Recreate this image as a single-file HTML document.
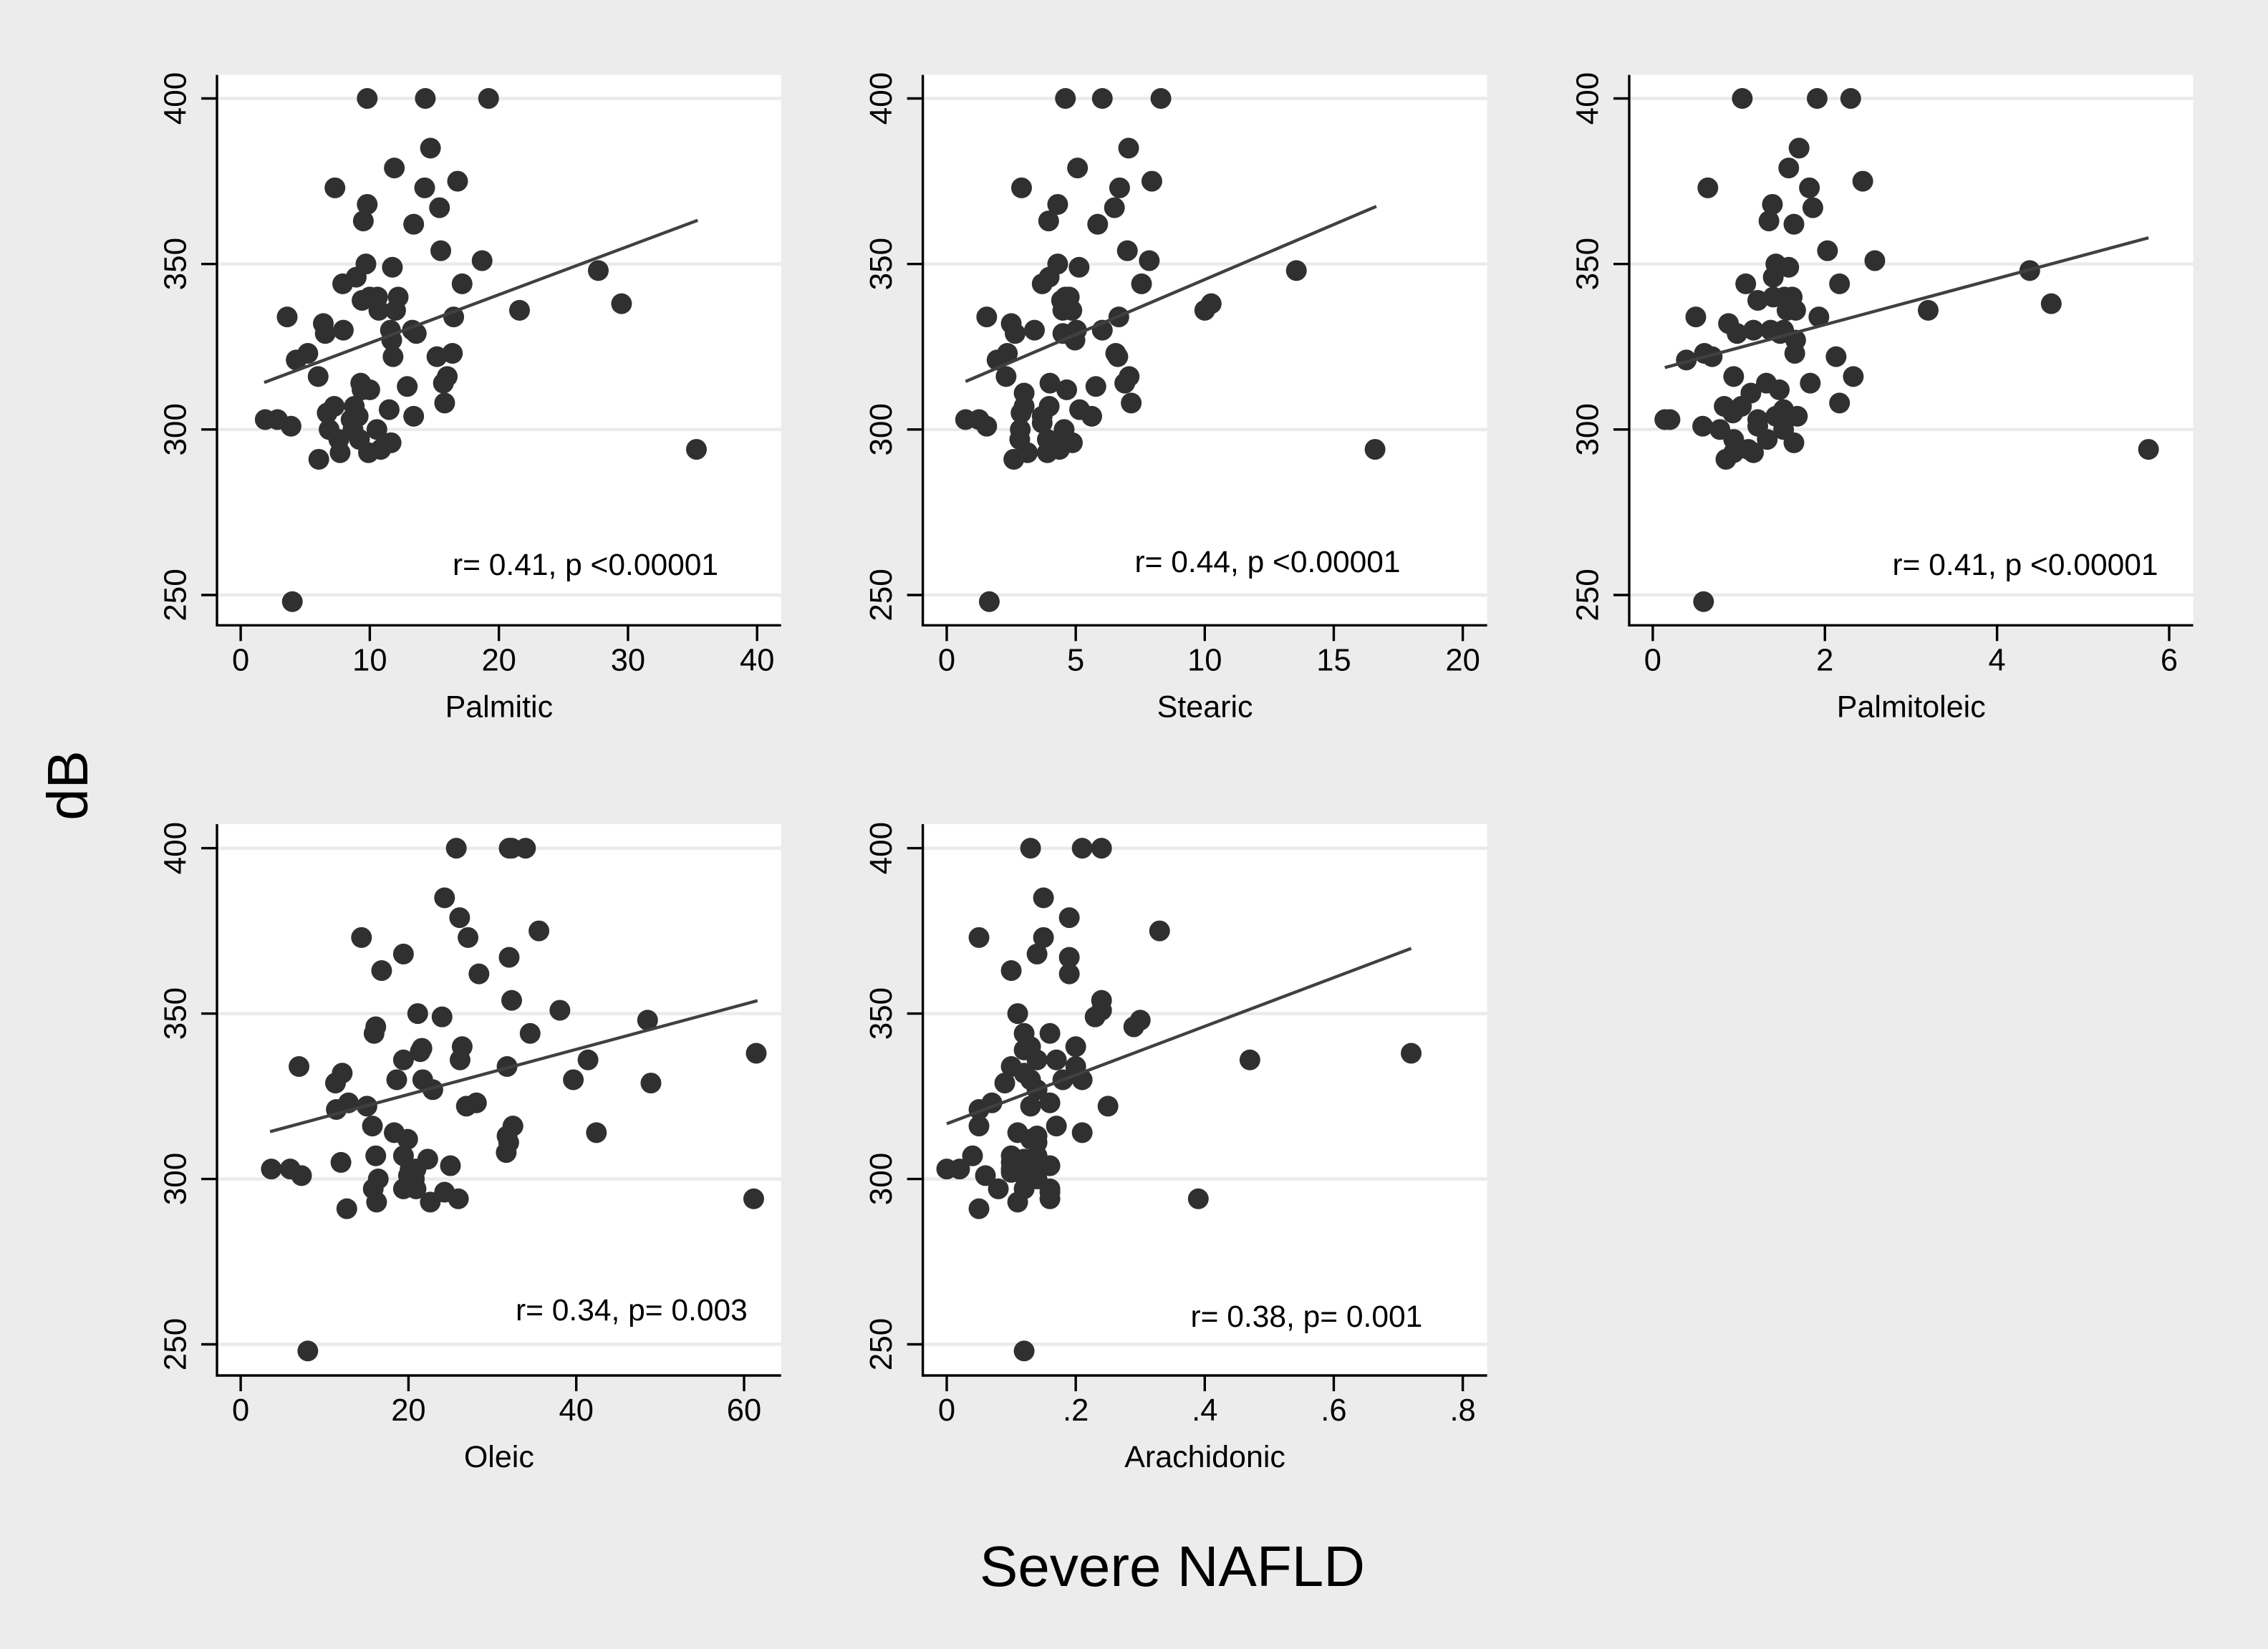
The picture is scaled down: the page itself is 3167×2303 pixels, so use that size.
<!DOCTYPE html>
<html lang="en">
<head>
<meta charset="utf-8">
<title>Severe NAFLD vs dB scatter panels</title>
<style>
html,body{margin:0;padding:0;background:#ececec;}
svg{display:block;font-family:"Liberation Sans",Arial,sans-serif;}
</style>
</head>
<body>
<svg id="chart" xmlns="http://www.w3.org/2000/svg" width="3167" height="2303" viewBox="0 0 3167 2303">
<rect x="0" y="0" width="3167" height="2303" fill="#ececec"/>
<text transform="translate(122,1097) rotate(-90)" text-anchor="middle" font-size="80" fill="#000">dB</text>
<text x="1637" y="2215" text-anchor="middle" font-size="80" fill="#000">Severe NAFLD</text>
</svg>
<script>
const yTicks = [250, 300, 350, 400];

const palmiticTicks = [0, 10, 20, 30, 40];
const palmiticX = [9.8,14.3,19.2,14.7,11.9,7.3,14.25,16.8,9.8,15.4,9.5,13.4,15.5,18.7,9.7,11.75,8.95,7.9,17.15,9.4,10,10.6,12.2,12,10.7,21.6,27.7,29.5,3.6,16.5,6.4,6.55,7.95,11.6,13.3,13.6,11.7,11.8,5.2,4.3,15.2,16.4,6,16,15.7,9.3,12.9,9.4,10,15.8,11.5,7.25,6.7,8.8,9.1,8.55,13.4,1.9,2.85,3.9,6.85,10.55,8.7,7.6,9.2,11.65,10.85,9.9,7.7,6.05,35.3,4];
const palmiticY = [400,400,400,385,379,373,373,375,368,367,363,362,354,351,350,349,346,344,344,339,340,340,340,336,336,336,348,338,334,334,332,329,330,330,330,329,327,322,323,321,322,323,316,316,314,314,313,312,312,308,306,307,305,307,304,303,304,303,303,301,300,300,300,297,297,296,294,293,293,291,294,248];
const palmiticFitX = [1.82, 35.4];
const palmiticFitY = [314.2, 363.2];

const stearicTicks = [0, 5, 10, 15, 20];
const stearicX = [4.6,6.03,8.3,7.05,5.07,2.9,6.7,7.95,4.3,6.5,3.95,5.85,7,7.85,4.3,5.13,3.97,3.7,7.55,4.45,4.75,4.6,4.5,4.85,10,10.25,13.55,1.55,6.67,2.5,2.65,3.4,5.03,4.5,6.03,4.97,2.35,1.95,6.55,6.63,2.3,7.07,6.9,4,5.78,4.65,3,7.15,5.15,3.97,3,2.88,3.7,5.62,3.7,0.73,1.25,1.55,2.85,4.55,2.83,3.9,4.87,4.37,3.13,3.9,2.6,16.6,1.65,4.2,4.0];
const stearicY = [400,400,400,385,379,373,373,375,368,367,363,362,354,351,350,349,346,344,344,339,340,340,336,336,336,338,348,334,334,332,329,330,330,329,330,327,323,321,323,322,316,316,314,314,313,312,311,308,306,307,307,305,304,304,302,303,303,301,300,300,297,297,296,294,293,293,291,294,248,296.5,295];
const stearicFitX = [0.73, 16.65];
const stearicFitY = [314.5, 367.4];

const palmitoleicTicks = [0, 2, 4, 6];
const palmitoleicX = [1.04,1.91,2.3,1.7,1.58,0.64,1.82,2.44,1.39,1.86,1.35,1.64,2.03,2.58,1.43,1.58,1.4,1.08,2.17,1.22,1.4,1.53,1.62,1.56,1.66,3.2,4.38,4.63,0.5,1.93,0.88,0.98,1.17,1.37,1.52,1.48,1.66,1.65,0.6,0.39,0.69,2.13,0.94,2.33,1.83,1.32,1.47,1.14,2.17,1.52,0.83,1.03,0.93,1.22,1.43,1.68,1.22,0.14,0.2,0.58,0.78,1.52,0.94,1.33,1.64,1.11,1.17,0.94,0.85,5.76,0.59,1.54];
const palmitoleicY = [400,400,400,385,379,373,373,375,368,367,363,362,354,351,350,349,346,344,344,339,340,340,340,336,336,336,348,338,334,334,332,329,330,330,330,329,327,323,323,321,322,322,316,316,314,314,312,311,308,306,307,307,305,303,304,304,301,303,303,301,300,300,297,297,296,294,293,293,291,294,248,304];
const palmitoleicFitX = [0.14, 5.76];
const palmitoleicFitY = [318.7, 357.9];

const oleicTicks = [0, 20, 40, 60];
const oleicX = [25.7,32,32.3,33.95,24.3,26.1,14.4,27.1,35.55,19.4,32,16.8,28.4,32.3,38.05,21.1,24,16.1,15.9,34.5,21.6,21.4,26.4,19.4,26.15,41.4,48.5,61.45,6.95,31.75,12.1,11.3,18.6,21.7,39.65,48.9,22.9,12.85,11.4,15.05,26.9,28.1,15.7,32.45,31.75,42.4,18.3,19.9,31.95,31.65,16.1,19.4,11.95,22.3,25,20.9,20.2,3.65,5.9,7.25,20,16.4,20.7,15.8,19.4,20.9,24.3,25.95,22.6,16.2,12.65,61.15,8];
const oleicY = [400,400,400,400,385,379,373,373,375,368,367,363,362,354,351,350,349,346,344,344,339.5,338.5,340,336,336,336,348,338,334,334,332,329,330,330,330,329,327,323,321,322,322,323,316,316,313,314,314,312,311,308,307,307,305,306,304,303,303,303,303,301,301,300,300,297,297,297,296,294,293,293,291,294,248];
const oleicFitX = [3.5, 61.6];
const oleicFitY = [314.3, 353.9];

const arachidonicTicks = [0, 0.2, 0.4, 0.6, 0.8];
const arachidonicTickLabels = ["0", ".2", ".4", ".6", ".8"];
const arachidonicX = [0.13,0.21,0.24,0.15,0.19,0.05,0.15,0.33,0.14,0.19,0.1,0.19,0.24,0.24,0.23,0.11,0.3,0.29,0.12,0.16,0.13,0.12,0.2,0.14,0.17,0.47,0.72,0.1,0.2,0.12,0.13,0.09,0.18,0.21,0.14,0.05,0.07,0.16,0.13,0.25,0.05,0.17,0.11,0.14,0.21,0.13,0.14,0.04,0.1,0.14,0.1,0.12,0.16,0,0.02,0.06,0.1,0.11,0.13,0.12,0.14,0.1,0.11,0.08,0.12,0.16,0.16,0.16,0.11,0.05,0.39,0.12];
const arachidonicY = [400,400,400,385,379,373,373,375,368,367,363,362,354,351,349,350,348,346,344,344,340,339,340,336,336,336,338,334,334,332,330,329,330,330,327,321,323,323,322,322,316,316,314,313,314,312,311,307,307,307,305,306,304,303,303,301,303,303,303,301,300,302,304,297,297,297,296,294,293,291,294,248];
const arachidonicFitX = [0, 0.72];
const arachidonicFitY = [316.7, 369.7];

const SVG_NS = 'http://www.w3.org/2000/svg';
const chart = document.getElementById('chart');
const gridColor = '#ebebeb';
const inkColor = '#000000';
const markerColor = '#303030';
const fitColor = '#404040';

function make(tag, parent, attrs) {
  const el = document.createElementNS(SVG_NS, tag);
  for (const k in attrs) el.setAttribute(k, attrs[k]);
  parent.appendChild(el);
  return el;
}
function linearScale(domain, range) {
  return function (v) {
    return range[0] + (v - domain[0]) * (range[1] - range[0]) / (domain[1] - domain[0]);
  };
}

function drawPanel(cfg) {
  const scaleX = linearScale(cfg.xDomain, cfg.xRange);
  const scaleY = linearScale([250, 400], cfg.yRange);

  const g = make('g', chart, {});
  
  

  const bg = make('rect', g, { x: cfg.left, y: cfg.top, width: cfg.right - cfg.left, height: cfg.bottom - cfg.top, fill: '#ffffff' });
  
  

  yTicks.forEach(function (t) {
    const y = scaleY(t);
    const grid = make('line', g, { x1: cfg.left, x2: cfg.right, y1: y, y2: y, stroke: gridColor, 'stroke-width': 4.7 });
    
    
    const tick = make('line', g, { x1: cfg.left - 22, x2: cfg.left, y1: y, y2: y, stroke: inkColor, 'stroke-width': 3.4 });
    
    
    const lx = cfg.left - 43.5;
    const label = make('text', g, { transform: 'translate(' + lx + ',' + y + ') rotate(-90)', 'text-anchor': 'middle', 'font-size': 44, fill: inkColor });
    label.textContent = String(t);
    
    
  });

  const xAxis = make('line', g, { x1: cfg.left, x2: cfg.right, y1: cfg.bottom, y2: cfg.bottom, stroke: inkColor, 'stroke-width': 3.4 });
  
  
  const yAxis = make('line', g, { x1: cfg.left, x2: cfg.left, y1: cfg.top, y2: cfg.bottom + 1.7, stroke: inkColor, 'stroke-width': 3.4 });
  
  

  cfg.ticks.forEach(function (t, i) {
    const x = scaleX(t);
    const tick = make('line', g, { x1: x, x2: x, y1: cfg.bottom, y2: cfg.bottom + 22, stroke: inkColor, 'stroke-width': 3.4 });
    
    
    const label = make('text', g, { x: x, y: cfg.bottom + 63, 'text-anchor': 'middle', 'font-size': 43.5, fill: inkColor });
    label.textContent = cfg.tickLabels ? cfg.tickLabels[i] : String(t);
    
    
  });

  const title = make('text', g, { x: (cfg.left + cfg.right) / 2, y: cfg.bottom + 128, 'text-anchor': 'middle', 'font-size': 43, fill: inkColor });
  title.textContent = cfg.title;
  
  

  cfg.xs.forEach(function (v, i) {
    const point = make('circle', g, { cx: scaleX(v), cy: scaleY(cfg.ys[i]), r: 14.5, fill: markerColor });
    
    
  });

  const fit = make('line', g, { x1: scaleX(cfg.fitX[0]), y1: scaleY(cfg.fitY[0]), x2: scaleX(cfg.fitX[1]), y2: scaleY(cfg.fitY[1]), stroke: fitColor, 'stroke-width': 4.4 });
  
  

  const note = make('text', g, { x: cfg.noteLeft, y: cfg.noteBase, 'font-size': 42.5, fill: inkColor });
  note.textContent = cfg.note;
  
  
}

const row1 = { top: 104.6, bottom: 873.3, yRange: [831, 137.5] };
const row2 = { top: 1151, bottom: 1921, yRange: [1877.5, 1184.6] };

drawPanel(Object.assign({}, row1, { key: 'palmitic', title: 'Palmitic', left: 303, right: 1090.7, xDomain: [0, 40], xRange: [336.1, 1057.2], ticks: palmiticTicks, xs: palmiticX, ys: palmiticY, fitX: palmiticFitX, fitY: palmiticFitY, note: 'r= 0.41, p <0.00001', noteLeft: 632, noteBase: 803 }));
drawPanel(Object.assign({}, row1, { key: 'stearic', title: 'Stearic', left: 1288.6, right: 2076.6, xDomain: [0, 20], xRange: [1322, 2042.6], ticks: stearicTicks, xs: stearicX, ys: stearicY, fitX: stearicFitX, fitY: stearicFitY, note: 'r= 0.44, p <0.00001', noteLeft: 1584.5, noteBase: 799 }));
drawPanel(Object.assign({}, row1, { key: 'palmitoleic', title: 'Palmitoleic', left: 2275, right: 3062.5, xDomain: [0, 6], xRange: [2307.9, 3029], ticks: palmitoleicTicks, xs: palmitoleicX, ys: palmitoleicY, fitX: palmitoleicFitX, fitY: palmitoleicFitY, note: 'r= 0.41, p <0.00001', noteLeft: 2642.5, noteBase: 803 }));
drawPanel(Object.assign({}, row2, { key: 'oleic', title: 'Oleic', left: 303, right: 1090.7, xDomain: [0, 60], xRange: [336.1, 1039], ticks: oleicTicks, xs: oleicX, ys: oleicY, fitX: oleicFitX, fitY: oleicFitY, note: 'r= 0.34, p= 0.003', noteLeft: 720, noteBase: 1844 }));
drawPanel(Object.assign({}, row2, { key: 'arachidonic', title: 'Arachidonic', left: 1288.6, right: 2076.6, xDomain: [0, 0.8], xRange: [1322, 2042.6], ticks: arachidonicTicks, tickLabels: arachidonicTickLabels, xs: arachidonicX, ys: arachidonicY, fitX: arachidonicFitX, fitY: arachidonicFitY, note: 'r= 0.38, p= 0.001', noteLeft: 1662.5, noteBase: 1853 }));
</script>
</body>
</html>
